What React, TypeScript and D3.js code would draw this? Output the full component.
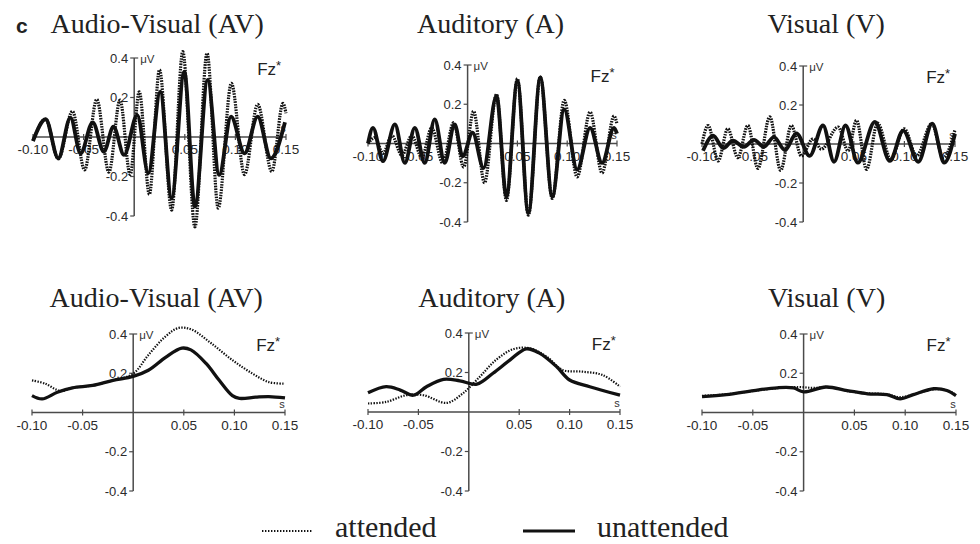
import React from 'react';
import * as d3 from 'd3';

type Pt = [number, number];

// ---------- tick / label data ----------
const xTicks = [-0.1, -0.05, 0.05, 0.1, 0.15];
const xTickLabels = ['-0.10', '-0.05', '0.05', '0.10', '0.15'];
const yTicks = [0.4, 0.2, -0.2, -0.4];
const yTickLabels = ['0.4', '0.2', '-0.2', '-0.4'];
const titles = ['Audio-Visual (AV)', 'Auditory (A)', 'Visual (V)'];
const legendLabels = ['attended', 'unattended'];

// ---------- top row (oscillatory), [time s, amplitude µV] ----------
const avTopAttended: Pt[] = [
  [-0.1, -0.02], [-0.0875, 0.09], [-0.075, -0.11], [-0.061, 0.13], [-0.049, -0.167], [-0.037, 0.19],
  [-0.025, -0.178], [-0.014, 0.187], [-0.004, -0.19], [0.005, 0.229], [0.015, -0.29], [0.025, 0.34],
  [0.037, -0.37], [0.048, 0.432], [0.06, -0.455], [0.072, 0.424], [0.083, -0.36], [0.096, 0.272],
  [0.109, -0.19], [0.122, 0.165], [0.136, -0.175], [0.147, 0.17], [0.15, 0.12],
];
const avTopUnattended: Pt[] = [
  [-0.1, -0.02], [-0.0875, 0.09], [-0.075, -0.108], [-0.063, 0.098], [-0.053, -0.083], [-0.041, 0.074],
  [-0.03, -0.074], [-0.0205, 0.052], [-0.01, -0.091], [0.003, 0.111], [0.014, -0.184], [0.0257, 0.229],
  [0.037, -0.31], [0.0495, 0.331], [0.06, -0.353], [0.0726, 0.289], [0.084, -0.192], [0.0957, 0.103],
  [0.109, -0.083], [0.122, 0.103], [0.135, -0.108], [0.149, 0.075],
];
const aTopAttended: Pt[] = [
  [-0.1, 0.0], [-0.093, 0.03], [-0.085, -0.05], [-0.076, 0.04], [-0.066, -0.06], [-0.056, 0.04],
  [-0.046, -0.07], [-0.036, 0.08], [-0.025, -0.1], [-0.014, 0.106], [-0.004, -0.12], [0.006, 0.164],
  [0.017, -0.2], [0.029, 0.25], [0.039, -0.29], [0.05, 0.33], [0.061, -0.365], [0.073, 0.34],
  [0.085, -0.28], [0.097, 0.22], [0.11, -0.17], [0.123, 0.16], [0.135, -0.15], [0.147, 0.14], [0.15, 0.1],
];
const aTopUnattended: Pt[] = [
  [-0.1, 0.0], [-0.095, 0.08], [-0.085, -0.09], [-0.073, 0.097], [-0.063, -0.099], [-0.053, 0.08],
  [-0.043, -0.099], [-0.033, 0.123], [-0.023, -0.099], [-0.013, 0.097], [-0.005, -0.065], [0.005, 0.055],
  [0.016, -0.125], [0.029, 0.243], [0.039, -0.27], [0.05, 0.32], [0.061, -0.355], [0.073, 0.337],
  [0.085, -0.27], [0.097, 0.174], [0.11, -0.133], [0.123, 0.08], [0.135, -0.099], [0.147, 0.08], [0.15, 0.05],
];
const vTopAttended: Pt[] = [
  [-0.1, 0.0], [-0.094, 0.095], [-0.084, -0.087], [-0.0745, 0.078], [-0.0646, -0.07], [-0.0547, 0.095],
  [-0.0448, -0.125], [-0.033, 0.139], [-0.0223, -0.135], [-0.0117, 0.095], [-0.0018, -0.061], [0.0097, 0.026],
  [0.018, -0.026], [0.0345, 0.087], [0.0444, -0.035], [0.0527, 0.121], [0.0626, -0.13], [0.0735, 0.107],
  [0.0866, -0.078], [0.0998, 0.078], [0.112, -0.061], [0.127, 0.104], [0.1384, -0.07], [0.15, 0.073],
];
const vTopUnattended: Pt[] = [
  [-0.099, -0.035], [-0.089, 0.043], [-0.079, -0.021], [-0.0695, 0.017], [-0.0586, -0.014], [-0.0487, 0.021],
  [-0.0388, -0.014], [-0.029, 0.035], [-0.018, -0.031], [-0.0067, 0.055], [0.0064, -0.061], [0.0196, 0.095],
  [0.0305, -0.091], [0.0418, 0.095], [0.054, -0.096], [0.0708, 0.113], [0.0856, -0.087], [0.0988, 0.069],
  [0.1137, -0.091], [0.1275, 0.104], [0.1394, -0.096], [0.15, 0.052],
];

// ---------- bottom row (smooth) ----------
const avBotAttended: Pt[] = [
  [-0.1, 0.164], [-0.087, 0.147], [-0.072, 0.11], [-0.06, 0.126], [-0.04, 0.138], [-0.02, 0.164],
  [0.0, 0.198], [0.015, 0.293], [0.032, 0.388], [0.045, 0.431], [0.058, 0.422], [0.077, 0.353],
  [0.098, 0.267], [0.118, 0.198], [0.134, 0.155], [0.15, 0.147],
];
const avBotUnattended: Pt[] = [
  [-0.1, 0.086], [-0.09, 0.069], [-0.075, 0.103], [-0.06, 0.126], [-0.04, 0.138], [-0.02, 0.164],
  [0.0, 0.184], [0.015, 0.215], [0.032, 0.281], [0.048, 0.328], [0.057, 0.319], [0.072, 0.25],
  [0.085, 0.164], [0.098, 0.086], [0.105, 0.072], [0.121, 0.078], [0.134, 0.081], [0.15, 0.074],
];
const aBotAttended: Pt[] = [
  [-0.1, 0.043], [-0.082, 0.051], [-0.062, 0.085], [-0.045, 0.085], [-0.022, 0.046], [-0.006, 0.094],
  [0.011, 0.179], [0.027, 0.264], [0.044, 0.318], [0.06, 0.323], [0.077, 0.281], [0.093, 0.213],
  [0.113, 0.204], [0.133, 0.187], [0.15, 0.128],
];
const aBotUnattended: Pt[] = [
  [-0.1, 0.097], [-0.082, 0.128], [-0.068, 0.111], [-0.055, 0.085], [-0.042, 0.128], [-0.025, 0.165],
  [-0.009, 0.158], [0.008, 0.141], [0.024, 0.196], [0.041, 0.264], [0.057, 0.32], [0.07, 0.298],
  [0.087, 0.23], [0.1, 0.162], [0.12, 0.128], [0.15, 0.085],
];
const vBotAttended: Pt[] = [
  [-0.1, 0.085], [-0.076, 0.093], [-0.049, 0.11], [-0.026, 0.124], [-0.005, 0.13], [0.01, 0.125],
  [0.025, 0.13], [0.045, 0.108], [0.063, 0.098], [0.082, 0.093], [0.095, 0.078], [0.108, 0.092],
  [0.128, 0.118], [0.141, 0.113], [0.15, 0.09],
];
const vBotUnattended: Pt[] = [
  [-0.1, 0.081], [-0.076, 0.091], [-0.049, 0.112], [-0.026, 0.126], [-0.01, 0.125], [0.0, 0.105],
  [0.022, 0.13], [0.043, 0.112], [0.063, 0.095], [0.082, 0.091], [0.095, 0.069], [0.108, 0.091],
  [0.128, 0.121], [0.141, 0.112], [0.15, 0.086],
];

const SANS = "'Liberation Sans', Arial, Helvetica, sans-serif";
const SERIF = "'Liberation Serif', 'Times New Roman', Times, serif";
const INK = '#111';
const AXIS = '#4a4a4a';

interface PanelCfg {
  title: string;
  titleY: number;
  px: [number, number];
  py: [number, number];
  attended: Pt[];
  unattended: Pt[];
  top: boolean;
}

const panels: PanelCfg[] = [
  { title: titles[0], titleY: 33, px: [33, 286], py: [58, 216], attended: avTopAttended, unattended: avTopUnattended, top: true },
  { title: titles[1], titleY: 33, px: [368, 617], py: [65, 222], attended: aTopAttended, unattended: aTopUnattended, top: true },
  { title: titles[2], titleY: 33, px: [702, 955], py: [66, 222], attended: vTopAttended, unattended: vTopUnattended, top: true },
  { title: titles[0], titleY: 307, px: [32, 285], py: [334, 491], attended: avBotAttended, unattended: avBotUnattended, top: false },
  { title: titles[1], titleY: 307, px: [368, 620], py: [333, 491], attended: aBotAttended, unattended: aBotUnattended, top: false },
  { title: titles[2], titleY: 307, px: [702, 956], py: [334, 491], attended: vBotAttended, unattended: vBotUnattended, top: false },
];

function Panel({ cfg }: { cfg: PanelCfg }) {
  const x = d3.scaleLinear().domain([-0.1, 0.15]).range(cfg.px);
  const y = d3.scaleLinear().domain([0.4, -0.4]).range(cfg.py);
  const line = d3
    .line<Pt>()
    .x((d) => x(d[0]))
    .y((d) => y(d[1]))
    .curve(cfg.top ? d3.curveMonotoneX : d3.curveCatmullRom.alpha(0.5));
  const x0 = x(0);
  const y0 = y(0);
  return (
    <g>
      <text x={x0 + 23} y={cfg.titleY} textAnchor="middle" fontFamily={SERIF} fontSize={28} fill="#222">
        {cfg.title}
      </text>
      {/* axes */}
      <line x1={x(-0.1)} x2={x(0.15)} y1={y0} y2={y0} stroke={AXIS} strokeWidth={1.5} />
      <line x1={x0} x2={x0} y1={y(0.4)} y2={y(-0.4)} stroke={AXIS} strokeWidth={1.5} />
      {xTicks.map((t, i) => (
        <g key={'xt' + i}>
          <line x1={x(t)} x2={x(t)} y1={y0 - 3} y2={y0 + 3} stroke={AXIS} strokeWidth={1.2} />
          <text x={x(t)} y={y0 + 17} textAnchor="middle" fontFamily={SANS} fontSize={13.5} fill="#2a2a2a">
            {xTickLabels[i]}
          </text>
        </g>
      ))}
      {yTicks.map((t, i) => (
        <g key={'yt' + i}>
          <line x1={x0 - 4} x2={x0 + (t === 0.4 ? 4 : 0)} y1={y(t)} y2={y(t)} stroke={AXIS} strokeWidth={1.2} />
          <text x={x0 - 6} y={y(t) + 4.5} textAnchor="end" fontFamily={SANS} fontSize={13} fill="#2a2a2a">
            {yTickLabels[i]}
          </text>
        </g>
      ))}
      <text x={x0 + 6} y={y(0.4) + 5} fontFamily={SANS} fontSize={11.5} fill="#333">
        μV
      </text>
      <text x={x(0.15) - 3} y={y0 - 5} textAnchor="middle" fontFamily={SANS} fontSize={11} fill="#333">
        s
      </text>
      <text x={x0 + 123} y={y(0.4) + 17} fontFamily={SANS} fontSize={17} fill="#222">
        Fz
        <tspan fontSize={13} dy={-5}>
          *
        </tspan>
      </text>
      {/* waveforms */}
      <path
        d={line(cfg.attended) || ''}
        fill="none"
        stroke={INK}
        strokeWidth={cfg.top ? 3.2 : 2.2}
        strokeDasharray={cfg.top ? '1.6 1.1' : '1.4 1.4'}
      />
      <path d={line(cfg.unattended) || ''} fill="none" stroke={INK} strokeWidth={cfg.top ? 3.8 : 3.3} strokeLinejoin="round" />
    </g>
  );
}

export default function App() {
  return (
    <svg
      width={980}
      height={544}
      viewBox="0 0 980 544"
      style={{ position: 'absolute', left: 0, top: 0, background: '#fff' }}
    >
      <rect x={0} y={0} width={980} height={544} fill="#fff" />
      <text x={16} y={33} fontFamily={SANS} fontWeight="bold" fontSize={21} fill="#222">
        c
      </text>
      {panels.map((p, i) => (
        <Panel key={i} cfg={p} />
      ))}
      {/* legend */}
      <line x1={262} x2={312} y1={531} y2={531} stroke={INK} strokeWidth={2.2} strokeDasharray="1.4 1.6" />
      <text x={335} y={537} fontFamily={SERIF} fontSize={30} fill="#222">
        {legendLabels[0]}
      </text>
      <line x1={523} x2={575} y1={531} y2={531} stroke={INK} strokeWidth={2.8} />
      <text x={597} y={537} fontFamily={SERIF} fontSize={30} fill="#222">
        {legendLabels[1]}
      </text>
    </svg>
  );
}
